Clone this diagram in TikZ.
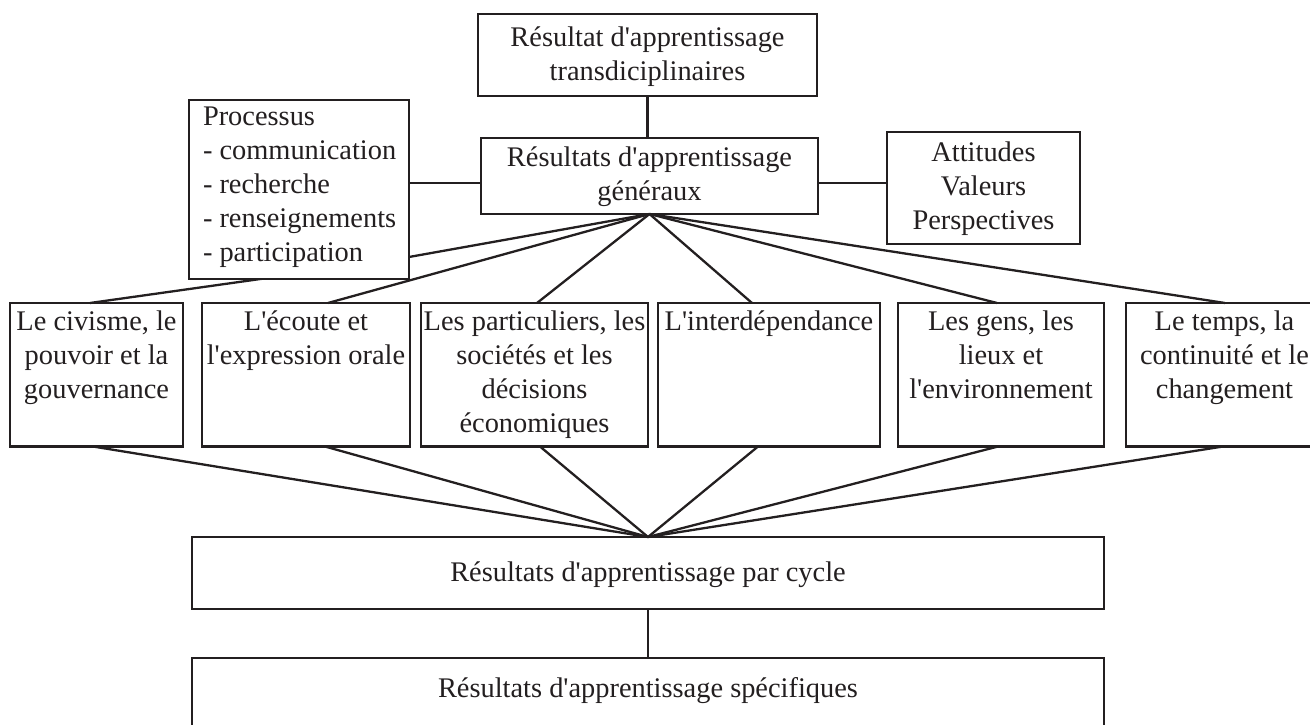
\documentclass[tikz,border=0pt]{standalone}
\usepackage{fontspec}
\setmainfont{Liberation Serif}[Ligatures=TeXOff]
\definecolor{ink}{RGB}{35,31,32}
\newcommand{\boxtxt}[4]{\parbox[c][#2pt][t]{#1pt}{\centering\rule{0pt}{#3pt}#4}}
\tikzset{
  bx/.style={draw=ink, line width=2.6pt, fill=white, inner sep=0pt, outer sep=0pt,
    anchor=north west, text=ink, font=\fontsize{28.4}{34}\selectfont},
  ln/.style={draw=ink, line width=2.3pt}
}
\begin{document}
\begin{tikzpicture}[x=1pt,y=-1pt]
\useasboundingbox (0,0) rectangle (1310,725);
% top row
\node[bx, minimum width=339pt, minimum height=82pt] (top) at (478,14)
  {\boxtxt{339}{82}{33}{Résultat d'apprentissage\\transdiciplinaires}};
\node[bx, minimum width=337pt, minimum height=76pt] (gen) at (481,138)
  {\boxtxt{337}{76}{28.7}{Résultats d'apprentissage\\généraux}};
\node[bx, minimum width=193pt, minimum height=112pt] (att) at (887,132)
  {\boxtxt{193}{112}{29.7}{Attitudes\\Valeurs\\Perspectives}};
% six themes
\node[bx, minimum width=173pt, minimum height=143.5pt] (c1) at (10,303)
  {\boxtxt{173}{143.5}{27}{Le civisme, le\\pouvoir et la\\gouvernance}};
\node[bx, minimum width=208pt, minimum height=143.5pt] (c2) at (202,303)
  {\boxtxt{208}{143.5}{27}{L'écoute et\\l'expression orale}};
\node[bx, minimum width=227pt, minimum height=143.5pt] (c3) at (421,303)
  {\boxtxt{227}{143.5}{27}{Les particuliers, les\\sociétés et les\\décisions\\économiques}};
\node[bx, minimum width=222pt, minimum height=143.5pt] (c4) at (658,303)
  {\boxtxt{222}{143.5}{27}{L'interdépendance}};
\node[bx, minimum width=206pt, minimum height=143.5pt] (c5) at (898,303)
  {\boxtxt{206}{143.5}{27}{Les gens, les\\lieux et\\l'environnement}};
\node[bx, minimum width=197pt, minimum height=143.5pt] (c6) at (1126,303)
  {\boxtxt{197}{143.5}{27}{Le temps, la\\continuité et le\\changement}};
% bottom boxes
\node[bx, minimum width=912pt, minimum height=72pt] (cyc) at (192,537)
  {\boxtxt{912}{72}{44.7}{Résultats d'apprentissage par cycle}};
\node[bx, minimum width=912pt, minimum height=75pt] (spec) at (192,658)
  {\boxtxt{912}{75}{39}{Résultats d'apprentissage spécifiques}};
% connectors
\coordinate (k1) at (381,262);
\coordinate (hy) at (0,183);
\draw[ln] (top.south) -- (top.south |- gen.north);
\draw[ln] (gen.south) -- (k1) -- ([xshift=80pt]c1.north west);
\draw[ln] (gen.south) -- ([xshift=126pt]c2.north west);
\draw[ln] (gen.south) -- ([xshift=116pt]c3.north west);
\draw[ln] (gen.south) -- ([xshift=94pt]c4.north west);
\draw[ln] (gen.south) -- ([xshift=99pt]c5.north west);
\draw[ln] (gen.south) -- ([xshift=99pt]c6.north west);
\draw[ln] ([xshift=83pt]c1.south west) -- (cyc.north);
\draw[ln] ([xshift=123pt]c2.south west) -- (cyc.north);
\draw[ln] ([xshift=119pt]c3.south west) -- (cyc.north);
\draw[ln] ([xshift=100pt]c4.south west) -- (cyc.north);
\draw[ln] ([xshift=100pt]c5.south west) -- (cyc.north);
\draw[ln] ([xshift=97pt]c6.south west) -- (cyc.north);
\draw[ln] (cyc.south) -- (cyc.south |- spec.north);
% processus box (covers hidden bend)
\node[bx, minimum width=220pt, minimum height=179pt] (proc) at (189,100)
  {\parbox[c][179pt][t]{220pt}{\raggedright\leftskip=14pt\relax\rule{0pt}{25pt}Processus\\- communication\\- recherche\\- renseignements\\- participation}};
\draw[ln] (proc.east |- hy) -- (gen.west |- hy);
\draw[ln] (gen.east |- hy) -- (att.west |- hy);
\end{tikzpicture}
\end{document}
